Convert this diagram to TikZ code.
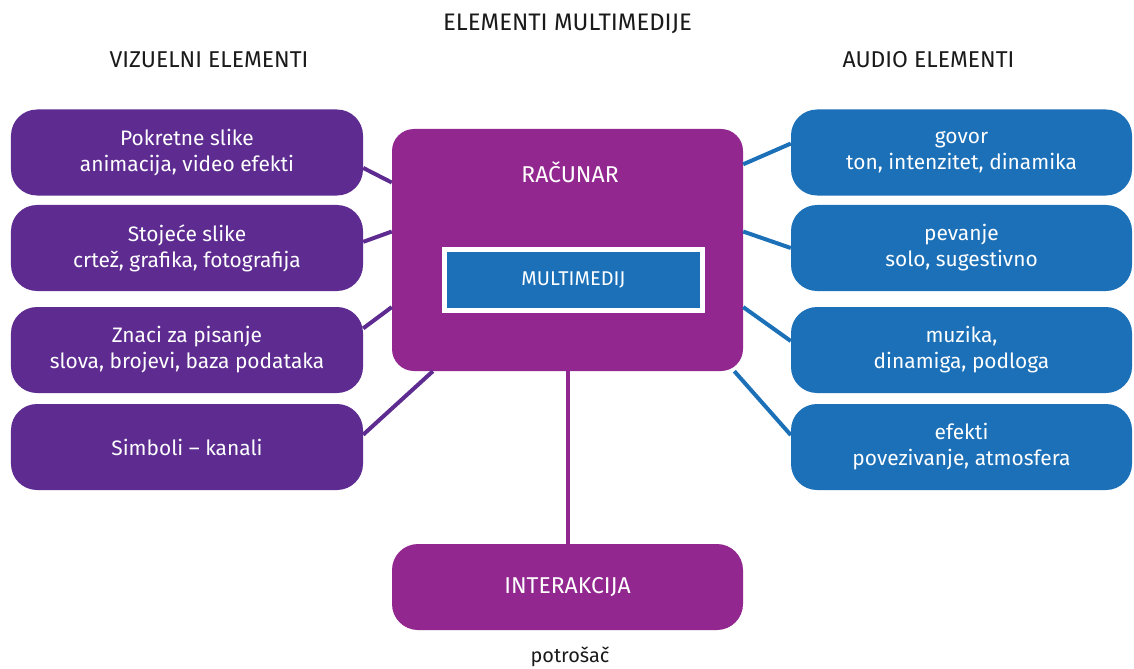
\documentclass[tikz,border=0pt]{standalone}
\usepackage{fontspec}
\setmainfont{Fira Sans}
\definecolor{mmviolet}{HTML}{5E2C91}
\definecolor{mmmagenta}{HTML}{92278F}
\definecolor{mmblue}{HTML}{1B70B8}
\definecolor{mmink}{HTML}{1A1A1A}
\newcommand{\mmfont}{\fontsize{21}{26}\selectfont}
\newcommand{\mmcaps}{\fontsize{23}{26}\selectfont}
\tikzset{
  mmbox/.style={rectangle, rounded corners=26bp, text=white, align=center, inner sep=0pt, font=\mmfont},
  vbox/.style={mmbox, fill=mmviolet, minimum width=352bp, minimum height=86bp},
  abox/.style={mmbox, fill=mmblue, minimum width=341bp, minimum height=86bp},
  cbox/.style={mmbox, fill=mmmagenta, rounded corners=22bp, minimum width=351bp, minimum height=242bp},
  ibox/.style={mmbox, fill=mmmagenta, minimum width=351bp, minimum height=86bp, font=\mmcaps},
  mbox/.style={rectangle, fill=mmblue, draw=white, line width=5bp, text=white, minimum width=258bp, minimum height=61bp, font=\fontsize{20}{24}\selectfont},
  htext/.style={text=mmink, font=\mmcaps},
  vtie/.style={draw=mmviolet, line width=4bp},
  atie/.style={draw=mmblue, line width=4bp},
  ctie/.style={draw=mmmagenta, line width=4bp}
}
\begin{document}
\begin{tikzpicture}[x=1bp, y=-1bp]
  \useasboundingbox (0,0) rectangle (1134,669);
  % headings
  \node[htext, font=\fontsize{24}{26}\selectfont] (title) at (567.5,24) {ELEMENTI MULTIMEDIJE};
  \node[htext] (vhead) at (209,60) {VIZUELNI ELEMENTI};
  \node[htext] (ahead) at (928.5,60) {AUDIO ELEMENTI};
  % centre
  \node[cbox] (comp) at (567.5,250) {};
  \node[mmbox, font=\mmcaps] (compt) at (570,172) {RAČUNAR};
  \node[mbox] (mm) at (573.5,280) {MULTIMEDIJ};
  \node[ibox] (inter) at (567.5,587) {INTERAKCIJA};
  \node[htext, font=\fontsize{20}{24}\selectfont] (user) at (570,657) {potrošač};
  \path[ctie] (comp.south) -- (inter.north);
  % visual side
  \node[vbox] (v1) at (187,152.5) {Pokretne slike\\animacija, video efekti};
  \node[vbox] (v2) at (187,248) {Stojeće slike\\crtež, grafika, fotografija};
  \node[vbox] (v3) at (187,350) {Znaci za pisanje\\slova, brojevi, baza podataka};
  \node[vbox] (v4) at (187,447) {Simboli – kanali};
  \path[vtie] (v1.-5) -- (comp.159.1) (v2.2) -- (comp.174.5) (v3.7.8) -- (comp.-162.9) (v4.4.9) -- (comp.-138.2);
  % audio side
  \node[abox] (a1) at (961.5,152.5) {govor\\ton, intenzitet, dinamika};
  \node[abox] (a2) at (961.5,248) {pevanje\\solo, sugestivno};
  \node[abox] (a3) at (961.5,350) {muzika,\\dinamiga, podloga};
  \node[abox] (a4) at (961.5,447) {efekti\\povezivanje, atmosfera};
  \path[atie] (comp.26.6) -- (a1.177.5) (comp.6.5) -- (a2.180) (comp.-18.9) -- (a3.177.3) (comp.-36.5) -- (a4.176);
\end{tikzpicture}
\end{document}
